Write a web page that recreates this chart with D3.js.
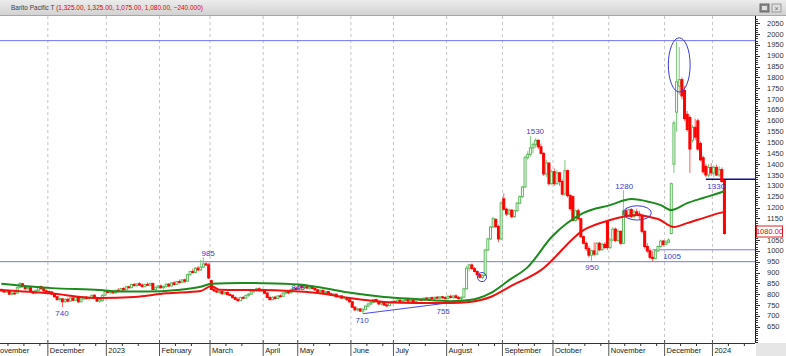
<!DOCTYPE html>
<html><head><meta charset="utf-8">
<script src="https://cdn.jsdelivr.net/npm/d3@7"></script>
<style>body{margin:0;background:#fff}svg{display:block;font-family:"Liberation Sans",Arial,sans-serif}</style>
</head><body>
<script>
// ---------------- DATA ----------------
const ticker = "Barito Pacific T";
const monthLabels = ["November","December","2023","February","March","April","May","June","July","August","September","October","November","December","2024"];
const monthStarts = [-3,18,40,60,79,99,112,132,148,168,189,208,229,250,268];
const opens = [
822,815,810,812,800,805,805,830,848,835, 825,830,812,805,818,835,825,815,812,810,
800,788,775,778,765,776,768,782,772,785, 765,778,786,780,784,795,785,768,770,795,
812,808,812,806,818,815,826,820,834,830, 845,840,848,842,835,845,842,850,822,832,
838,830,835,846,838,852,845,858,855,866, 860,890,905,900,920,912,925,940,935,862,
822,815,810,812,802,808,798,795,784,776, 770,785,782,795,800,812,818,825,815,820,
805,785,775,786,780,792,790,805,810,806, 822,828,822,838,830,835,828,832,826,820,
812,818,808,812,802,796,800,788,792,782, 785,774,765,740,728,732,722,730,745,755,
762,775,765,755,762,750,748,760,766,762, 772,766,770,775,768,772,766,773,776,772,
782,778,784,780,786,782,788,784,780,790, 785,792,784,780,786,825,920,935,918,905,
890,878,886,1004,1055,1110,1145,1112,1055,1240, 1192,1170,1188,1158,1185,1220,1250,1295,1430,1445,
1475,1490,1510,1480,1450,1355,1405,1310,1365,1310, 1360,1320,1262,1370,1255,1250,1140,1185,1148,1065,
1035,1010,980,1000,985,1035,1005,1030,1135,1015, 1050,1100,1048,1090,1035,1185,1160,1190,1158,1180,
1170,1165,1090,1020,1000,970,965,1000,1020,1045, 1030,1040,1080,1400,1640,1760,1790,1740,1630,1615,
1510,1570,1600,1495,1430,1390,1350,1385,1360,1385, 1350,1375,1325];
const highs = [
826,820,818,815,810,812,835,855,852,842, 838,832,818,822,838,840,828,822,818,815,
802,792,785,782,780,782,785,786,790,788, 782,790,792,788,798,800,788,780,800,818,
820,815,818,820,828,830,832,838,840,848, 852,850,856,850,848,855,852,852,836,842,
845,840,850,852,856,860,862,868,870,872, 895,908,918,925,930,958,970,948,945,866,
830,822,818,815,812,812,805,798,790,786, 788,792,798,805,815,822,830,832,826,824,
810,790,790,792,795,800,808,815,818,825, 832,835,845,842,840,842,836,840,832,825,
822,820,815,814,808,805,802,795,795,790, 788,778,768,745,738,735,735,748,760,768,
778,780,770,768,765,758,765,770,772,775, 778,774,778,780,776,778,775,780,782,785,
788,786,790,788,792,790,792,790,795,798, 796,800,792,790,830,930,940,942,925,910,
895,892,1010,1060,1115,1155,1150,1120,1230,1265, 1200,1195,1192,1190,1225,1255,1300,1440,1460,1530,
1500,1520,1515,1495,1455,1420,1410,1375,1380,1372, 1365,1330,1420,1375,1262,1255,1190,1195,1150,1070,
1045,1022,1005,1040,1040,1042,1038,1040,1140,1060, 1110,1108,1100,1095,1280,1200,1195,1198,1190,1195,
1185,1168,1095,1035,1012,1000,1008,1025,1052,1050, 1050,1058,1315,1600,1965,1940,1800,1760,1645,1625,
1580,1610,1610,1505,1440,1400,1400,1405,1395,1398, 1390,1385,1325];
const lows = [
812,808,805,798,795,798,803,828,830,822, 820,808,800,802,815,820,810,808,805,798,
785,770,765,740,760,762,765,768,770,760, 762,772,775,770,780,782,765,760,765,790,
805,800,802,804,812,812,815,818,825,828, 835,832,838,830,832,838,835,818,818,826,
825,822,830,832,835,840,842,850,850,852, 858,885,895,898,905,908,920,930,870,818,
812,805,802,798,798,795,790,780,772,765, 768,778,780,788,796,805,810,812,808,800,
782,770,772,776,778,785,788,798,800,804, 815,818,820,825,822,826,818,824,815,808,
806,804,800,798,792,790,785,780,778,775, 770,760,735,722,720,718,710,728,740,750,
758,762,750,748,745,740,745,752,758,760, 762,758,765,765,762,764,762,768,768,770,
774,772,776,774,778,776,778,776,776,780, 778,780,776,772,784,822,905,912,900,885,
872,870,884,1000,1050,1105,1105,1040,1050,1185, 1160,1165,1150,1152,1180,1215,1245,1290,1420,1435,
1450,1475,1470,1445,1345,1340,1300,1305,1300,1305, 1300,1255,1255,1245,1185,1135,1135,1140,1060,1030,
1000,970,950,975,980,998,1000,1010,1005,1008, 1045,1040,1040,1028,1030,1150,1155,1150,1150,1160,
1145,1080,1010,990,960,950,960,995,1015,1020, 1025,1035,1075,1360,1550,1720,1700,1600,1550,1360,
1500,1510,1460,1415,1355,1340,1340,1345,1340,1345, 1340,1315,1075];
const closes = [
815,810,814,800,805,802,830,850,835,825, 832,812,805,818,835,825,815,812,810,800,
788,775,780,765,776,768,782,772,785,765, 778,786,780,784,795,785,768,775,795,812,
808,812,806,818,815,826,820,834,830,845, 840,848,842,835,845,842,850,822,832,838,
830,835,846,838,852,845,858,855,866,860, 890,905,900,920,912,925,940,935,875,822,
815,810,812,802,808,798,795,784,776,770, 785,782,795,800,812,818,825,815,820,805,
785,775,786,780,792,790,805,810,806,822, 828,822,838,830,835,828,832,826,820,812,
818,808,812,802,796,800,788,792,782,785, 774,765,740,728,732,722,730,745,755,762,
775,765,755,762,750,748,760,766,762,772, 766,770,775,768,772,766,773,776,772,782,
778,784,780,786,782,788,784,780,790,785, 792,784,780,786,825,920,935,918,905,890,
878,886,1004,1055,1110,1150,1112,1055,1220,1192, 1170,1188,1158,1185,1220,1250,1295,1430,1445,1475,
1490,1510,1480,1450,1355,1405,1310,1365,1310,1360, 1320,1262,1370,1255,1195,1140,1185,1148,1065,1035,
1010,980,1000,985,1035,1005,1030,1015,1015,1050, 1100,1048,1090,1035,1185,1160,1190,1158,1180,1170,
1165,1090,1020,1000,970,965,1000,1020,1045,1030, 1040,1050,1310,1590,1780,1790,1715,1610,1560,1470,
1570,1525,1470,1420,1365,1350,1385,1360,1385,1350, 1375,1320,1080];

const greenIdx = [0,19,37,45,55,66,75,79,90,98,112,119,132,144,157,169,176,184,191,198,207,219,229,237,244,248,252,258,264,270,272];
const greenMA  = [848,828,819,812,812,819,834,848,852,851,845,833,805,787,777,768,773,805,865,925,1064,1175,1211,1239,1225,1211,1188,1220,1244,1267,1276];
const redIdx = [0,18,37,50,62,75,79,82,97,119,131,144,156,169,176,184,191,203,219,229,239,244,247,253,258,264,270,272];
const redMA  = [819,804,782,787,804,815,838,820,819,805,782,764,759,759,764,787,833,911,1096,1142,1165,1156,1147,1110,1128,1151,1174,1180];

const levelValues = [1970, 950, 1005, 1330];
const levelFrom   = [-1, -1, 245, 265];
const trendIdx = [136, 176];
const trendVal = [710, 772];

const noteTexts = ["740","985","845","710","755","1530","1280","950","1005","1330"];
const noteIdx   = [22.8, 77.8, 111.6, 135.7, 166.2, 200.8, 234.3, 222.2, 252.3, 268.9];
const noteVal   = [713, 990, 833, 680, 722, 1549, 1299, 921, 976, 1299];

const ringIdx = [255, 239.2, 180.8];
const ringVal = [1858, 1175, 879];
const ringDi  = [4.1, 5.3, 1.7];
const ringDv  = [125, 33, 21];

const yTicks = d3.range(650, 2051, 50);
const yMinor = d3.range(580, 2080, 10);

// ---------------- LAYOUT ----------------
const W = 786, H = 356;
const plotL = 0, plotR = 755, plotT = 16, plotB = 343;
const nSlots = 284;
const x = d3.scaleLinear().domain([-0.5, nSlots - 0.5]).range([plotL, plotR]);
const y = d3.scaleLinear().domain([650, 2050]).range([326.7, 23.3]);

const svg = d3.select("body").append("svg").attr("width", W).attr("height", H);
svg.append("rect").attr("width", W).attr("height", H).attr("fill", "#fff");

const defs = svg.append("defs");
defs.append("clipPath").attr("id", "plotclip").append("rect")
  .attr("x", plotL).attr("y", plotT).attr("width", plotR - plotL).attr("height", plotB - plotT);
const hg = defs.append("linearGradient").attr("id", "hdr").attr("x1", 0).attr("y1", 0).attr("x2", 0).attr("y2", 1);
hg.append("stop").attr("offset", 0).attr("stop-color", "#ececec");
hg.append("stop").attr("offset", 1).attr("stop-color", "#d2d2d2");

const plot = svg.append("g").attr("clip-path", "url(#plotclip)");

// month gridlines (dashed)
plot.selectAll("line.mgrid").data(monthStarts).join("line")
  .attr("x1", d => x(d - 0.5)).attr("x2", d => x(d - 0.5))
  .attr("y1", plotT).attr("y2", plotB)
  .attr("stroke", "#c4c4c4").attr("stroke-width", 1).attr("stroke-dasharray", "3,3");

// level lines
levelValues.forEach((v, k) => {
  const x1 = levelFrom[k] < 0 ? plotL : x(levelFrom[k]);
  plot.append("line").attr("x1", x1).attr("x2", plotR)
    .attr("y1", y(v)).attr("y2", y(v))
    .attr("stroke", v === 1330 ? "#10108a" : "#7474f4")
    .attr("stroke-width", v === 1330 ? 1.5 : 1);
});

// trend line
plot.append("line")
  .attr("x1", x(trendIdx[0])).attr("y1", y(trendVal[0]))
  .attr("x2", x(trendIdx[1])).attr("y2", y(trendVal[1]))
  .attr("stroke", "#4848f0").attr("stroke-width", 1);

// candles
const idx = d3.range(closes.length);
const upC = "#5cb85c", dnC = "#ff0000";
plot.selectAll("line.wick").data(idx).join("line")
  .attr("x1", i => x(i)).attr("x2", i => x(i))
  .attr("y1", i => y(highs[i])).attr("y2", i => y(lows[i]))
  .attr("stroke", i => closes[i] >= opens[i] ? "#7ccc7c" : "#ff6060")
  .attr("stroke-width", 1);
plot.selectAll("rect.body").data(idx).join("rect")
  .attr("x", i => x(i) - 1).attr("width", 2)
  .attr("y", i => y(Math.max(opens[i], closes[i])))
  .attr("height", i => Math.max(0.8, Math.abs(y(opens[i]) - y(closes[i]))))
  .attr("fill", i => closes[i] >= opens[i] ? "#ffffff" : dnC)
  .attr("stroke", i => closes[i] >= opens[i] ? upC : dnC)
  .attr("stroke-width", 1);

// moving averages
const lineGen = d3.line().curve(d3.curveMonotoneX);
plot.append("path")
  .attr("d", lineGen(redIdx.map((d, k) => [x(d), y(redMA[k])])))
  .attr("fill", "none").attr("stroke", "#f01010").attr("stroke-width", 2);
plot.append("path")
  .attr("d", lineGen(greenIdx.map((d, k) => [x(d), y(greenMA[k])])))
  .attr("fill", "none").attr("stroke", "#1d8a1d").attr("stroke-width", 2);

// rings
ringIdx.forEach((d, k) => {
  const cx = x(d), cy = y(ringVal[k]);
  plot.append("ellipse").attr("cx", cx).attr("cy", cy)
    .attr("rx", x(d + ringDi[k]) - cx).attr("ry", cy - y(ringVal[k] + ringDv[k]))
    .attr("fill", "none").attr("stroke", "#3a3ae0").attr("stroke-width", 1);
});

// notes
plot.selectAll("text.note").data(noteTexts).join("text")
  .attr("x", (d, k) => x(noteIdx[k])).attr("y", (d, k) => y(noteVal[k]))
  .attr("text-anchor", "middle").attr("dominant-baseline", "central")
  .attr("font-size", "8px").attr("fill", "#3c3cd0").text(d => d);

// ---------------- AXES ----------------
// bottom axis
svg.append("line").attr("x1", plotL).attr("x2", plotR).attr("y1", plotB + 0.5).attr("y2", plotB + 0.5)
  .attr("stroke", "#333").attr("stroke-width", 1);
svg.append("rect").attr("x", plotR + 1).attr("y", plotB).attr("width", W - plotR - 1).attr("height", H - plotB)
  .attr("fill", "#e6e6e6");
const minorX = [];
monthStarts.forEach((s, k) => {
  const end = k + 1 < monthStarts.length ? monthStarts[k + 1] : nSlots;
  for (let t = s + 6; t < end - 2; t += 6) minorX.push(t);
});
svg.selectAll("line.xminor").data(minorX).join("line")
  .attr("x1", d => x(d - 0.5)).attr("x2", d => x(d - 0.5))
  .attr("y1", plotB).attr("y2", plotB + 3).attr("stroke", "#333");
svg.selectAll("line.xmajor").data(monthStarts).join("line")
  .attr("x1", d => x(d - 0.5)).attr("x2", d => x(d - 0.5))
  .attr("y1", plotB - 3).attr("y2", H).attr("stroke", "#555");
svg.selectAll("text.mlab").data(monthLabels).join("text")
  .attr("x", (d, k) => Math.max(0, x(monthStarts[k] - 0.5) + 2)).attr("y", 353)
  .attr("font-size", "7.5px").attr("fill", "#222")
  .text((d, k) => x(monthStarts[k] - 0.5) < 0 ? d.slice(1) : d);

// right axis
const last = closes.length - 1;
const boxY = y(closes[last]) - 2;
svg.append("line").attr("x1", plotR + 0.5).attr("x2", plotR + 0.5).attr("y1", plotT).attr("y2", plotB)
  .attr("stroke", "#111").attr("stroke-width", 1);
svg.selectAll("line.yminor").data(yMinor.filter(v => y(v) > plotT && y(v) < plotB)).join("line")
  .attr("x1", plotR).attr("x2", plotR + 3).attr("y1", d => Math.round(y(d)) + 0.5).attr("y2", d => Math.round(y(d)) + 0.5)
  .attr("stroke", "#333");
svg.selectAll("line.ymajor").data(yTicks).join("line")
  .attr("x1", plotR).attr("x2", plotR + 5).attr("y1", d => Math.round(y(d)) + 0.5).attr("y2", d => Math.round(y(d)) + 0.5)
  .attr("stroke", "#333");
svg.selectAll("text.ylab").data(yTicks.filter(v => Math.abs(y(v) - boxY) > 7)).join("text")
  .attr("x", 767).attr("y", d => y(d)).attr("dominant-baseline", "central")
  .attr("font-size", "7.5px").attr("fill", "#333").text(d => d);

// last price box
const fmt2 = d3.format(",.2f");
svg.append("rect").attr("x", plotR + 1.5).attr("y", boxY - 5.5).attr("width", 26).attr("height", 11)
  .attr("fill", "#fff").attr("stroke", "#e02020").attr("stroke-width", 1);
svg.append("text").attr("x", plotR + 14.5).attr("y", boxY)
  .attr("text-anchor", "middle").attr("dominant-baseline", "central")
  .attr("font-size", "7.5px").attr("fill", "#e00000").text(d3.format(".2f")(closes[last]));

// ---------------- HEADER ----------------
svg.append("rect").attr("x", 0).attr("y", 0).attr("width", W).attr("height", 15).attr("fill", "url(#hdr)");
svg.append("line").attr("x1", 0).attr("x2", W).attr("y1", 15.5).attr("y2", 15.5).attr("stroke", "#a8a8a8");
const change = closes[last] - closes[last - 1];
const ht = svg.append("text").attr("x", 11).attr("y", 10).attr("font-size", "7px")
  .attr("textLength", 192).attr("lengthAdjust", "spacingAndGlyphs");
ht.append("tspan").attr("fill", "#404040").text(ticker + " ");
ht.append("tspan").attr("fill", "#e00000")
  .text("(" + [opens[last], highs[last], lows[last], closes[last]].map(fmt2).join(", ") + ", " + d3.format(".3f")(change) + ")");
// window buttons
svg.append("rect").attr("x", 760).attr("y", 4).attr("width", 9).attr("height", 8).attr("fill", "#8a8a8a").attr("stroke", "#666");
svg.append("rect").attr("x", 762).attr("y", 6).attr("width", 5).attr("height", 4).attr("fill", "#e0e0e0");
svg.append("rect").attr("x", 772).attr("y", 4).attr("width", 9).attr("height", 8).attr("fill", "#dedede").attr("stroke", "#9a9a9a");
svg.append("text").attr("x", 776.5).attr("y", 10.5).attr("text-anchor", "middle").attr("font-size", "7px").attr("fill", "#666").text("×");
</script>
</body></html>
